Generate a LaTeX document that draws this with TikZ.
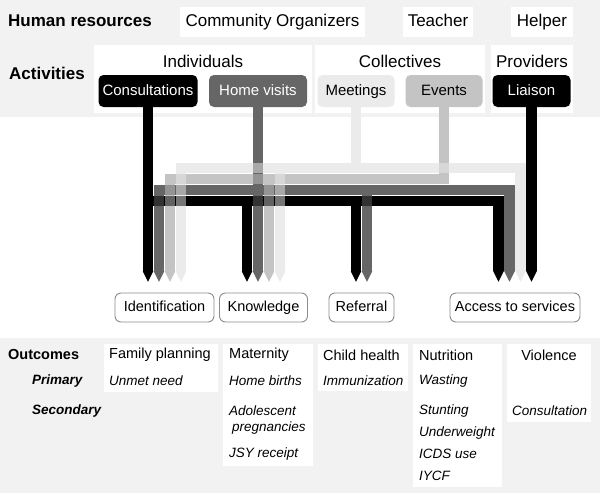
\documentclass[tikz,border=0pt]{standalone}
\usepackage{fontspec}
\setmainfont{Liberation Sans}
\usetikzlibrary{arrows.meta}
\definecolor{band}{HTML}{F2F2F2}
\definecolor{meetc}{HTML}{EBEBEB}
\definecolor{evntc}{HTML}{C4C4C4}
\definecolor{homec}{HTML}{666666}
\definecolor{edgec}{HTML}{8C8C8C}
\newcommand\toptext{\fontsize{17}{20}\selectfont}
\newcommand\acttext{\fontsize{15}{18}\selectfont}
\newcommand\outtext{\fontsize{14.5}{17}\selectfont}
\newcommand\itemtext{\fontsize{13.5}{16}\selectfont\itshape}

\begin{document}
\begin{tikzpicture}[x=1pt,y=-1pt,
  hr/.style={fill=white,minimum height=30,inner sep=0pt,text height=12pt,text depth=3.5pt,font=\toptext},
  grp/.style={fill=white,minimum height=68,inner sep=0pt},
  act/.style={rounded corners=5pt,minimum height=32,inner sep=0pt,text height=11pt,text depth=3pt,font=\acttext},
  res/.style={draw=edgec,line width=0.9pt,rounded corners=6pt,minimum height=29,inner sep=0pt,text height=10.5pt,text depth=3pt,font=\outtext},
  col/.style={fill=white,anchor=north west,inner sep=0pt},
  lbl/.style={anchor=west,inner sep=0pt},
  wire/.style={line width=10.5pt,wpass},
  wpass/.style={},
  >={Triangle[width=0pt 1,length=0pt 1,line width=0pt]}]
  \useasboundingbox (0,0) rectangle (600,493);
  \fill[white] (0,0) rectangle (600,493);
  \fill[band] (0,0) rectangle (600,117);
  \fill[band] (0,338) rectangle (600,493);

  \node[lbl,font=\toptext\bfseries] (hres) at (8,21) {Human resources};
  \node[hr,minimum width=185] (comm) at (272.5,22) {Community Organizers};
  \node[hr,minimum width=70] (teach) at (438,22) {Teacher};
  \node[hr,minimum width=62] (help) at (542,22) {Helper};

  \node[lbl,font=\toptext\bfseries] (acts) at (9,73) {Activities};
  \foreach \n/\x/\w/\t in {indi/203/218/Individuals,coll/400/170/Collectives,prov/532/82/Providers} {
    \node[grp,minimum width=\w] (\n) at (\x,79) {};
    \node[font=\toptext,inner sep=0pt,text height=12pt,text depth=3.5pt] (\n-t) at ([yshift=-18pt]\n.north) {\t};
  }
  \foreach \n/\x/\w/\c/\f/\t in {cons/148/99/black/white/Consultations,home/258/98/homec/white/Home visits,
      meet/356/77/meetc/black/Meetings,evnt/444/77/evntc/black/Events,liai/531.5/78/black/white/Liaison}
    \node[act,fill=\c,text=\f,minimum width=\w] (\n) at (\x,91) {\t};

  \foreach \n/\x/\w/\t in {iden/164.5/99/Identification,know/263.5/88/Knowledge,refe/361.5/65/Referral,acce/515/130/Access to services}
    \node[res,minimum width=\w] (\n) at (\x,307.5) {\t};
  \foreach \n/\k in {iden/4,know/4,refe/2,acce/4}
    \foreach \i in {1,...,\k}
      \coordinate (\n\i) at ([xshift={(\i-(\k+1)/2)*11},yshift=11]\n.north);
  \coordinate (lA) at (0,201);
  \coordinate (lB) at (0,190);
  \coordinate (lC) at (0,179);
  \coordinate (lD) at (0,168);

  \def\wA{
    \draw[wire,black,->] (cons.south) -- (iden1);
    \draw[wire,black,->] (iden1 |- lA) -| (acce1);
    \draw[wire,black,->] (know1 |- lA) -- (know1);
    \draw[wire,black,->] (refe1 |- lA) -- (refe1);
    \draw[wire,black,->] (liai.south) -- (acce4);
  }
  \def\wB{
    \draw[wire,homec,->] (home.south) -- (know2);
    \draw[wire,homec,<->] (iden2) |- (acce2 |- lB) -- (acce2);
    \draw[wire,homec,->] (refe2 |- lB) -- (refe2);
  }
  \def\wC{
    \draw[wire,evntc,->] (evnt.south) |- (iden3 |- lC) -- (iden3);
    \draw[wire,evntc,->] (know3 |- lC) -- (know3);
  }
  \def\wD{
    \draw[wire,meetc] (meet.south) -- (meet.south |- lD);
    \draw[wire,meetc,<->] (iden4) |- (acce3 |- lD) -- (acce3);
    \draw[wire,meetc,->] (know4 |- lD) -- (know4);
  }
  \wA\wB\wC\wD
  \tikzset{wpass/.style={opacity=.5}}
  \wD\wC\wB\wA

  \node[lbl,font=\outtext\bfseries] (outc) at (8,355) {Outcomes};
  \node[lbl,font=\fontsize{13.5}{16}\selectfont\bfseries\itshape] (prim) at (32,381) {Primary};
  \node[lbl,font=\fontsize{13.5}{16}\selectfont\bfseries\itshape] (seco) at (32,411) {Secondary};
  \foreach \n/\x/\w/\h in {fp/104/114/48,mat/223/90/122,chh/318/90/47,nut/413/89/143,vio/507/84/78}
    \node[col,minimum width=\w,minimum height=\h] (\n) at (\x,344) {};
  \foreach \n/\x/\t in {fp/109/Family planning,mat/229/Maternity,chh/323/Child health,nut/419/Nutrition}
    \node[lbl,font=\outtext] (\n-t) at (\x,355) {\t};
  \node[font=\outtext,inner sep=0pt] (vio-t) at (549,355) {Violence};
  \foreach \x/\y/\t [count=\i] in {109/381/Unmet need,229/381/Home births,229/411/Adolescent,232/428/pregnancies,
      229/454/JSY receipt,323/381/Immunization,419/381/Wasting,419/411/Stunting,419/433/Underweight,
      419/454/ICDS use,419/476/IYCF,512/411/Consultation}
    \node[lbl,font=\itemtext] (it\i) at (\x,\y) {\t};
\end{tikzpicture}
\end{document}
